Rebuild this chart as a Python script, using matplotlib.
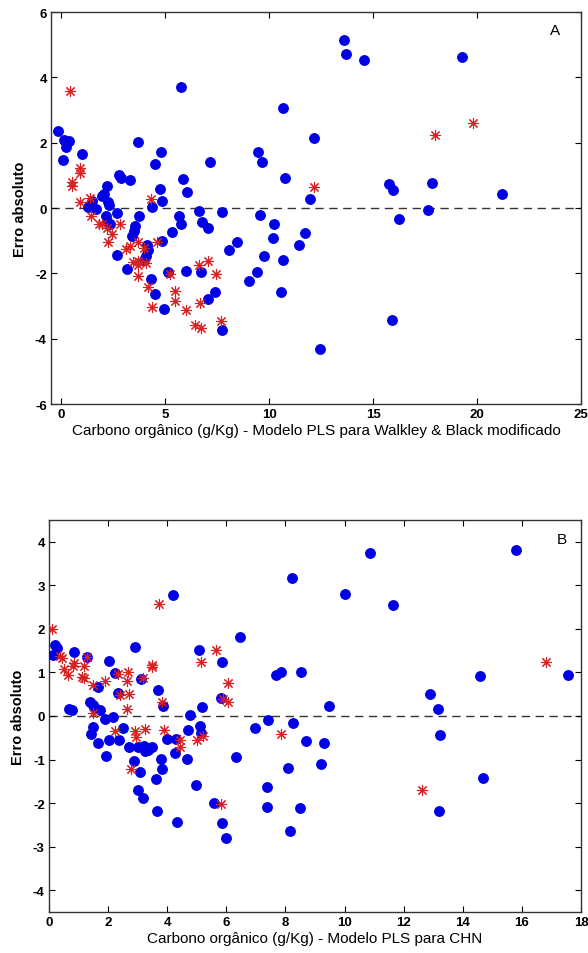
import matplotlib
matplotlib.use("Agg")
import matplotlib.pyplot as plt

# ---------------- Panel A data ----------------
a_blue_x = [-0.16, 0.13, 0.37, 0.2, 0.08, 1.01, 1.49, 1.3, 1.65, 2.05, 1.97, 2.18, 2.24, 2.29,
            2.77, 2.85, 3.3, 3.7, 4.81, 4.5, 4.74, 4.85, 4.37, 5.76, 5.87, 6.06, 7.14, 9.45, 9.66,
            10.66, 10.75, 11.95, 12.14, 13.59, 13.7, 14.55, 19.29, 15.75, 15.95, 17.81, 21.18,
            17.65, 16.24, 11.71, 11.42, 15.91, 12.43,
            2.66, 2.13, 2.21, 2.34, 3.73, 3.52, 3.49, 3.41, 4.85, 5.3, 4.13, 4.17, 4.05, 3.97,
            2.66, 3.17, 4.31, 5.12, 6.0, 6.7, 4.49, 4.93, 7.38, 7.05, 7.71, 6.62, 7.74, 5.65,
            5.74, 6.78, 7.07, 9.55, 10.22, 10.17, 8.43, 8.06, 9.74, 10.67, 9.39, 9.05, 10.58]
a_blue_y = [2.35, 2.07, 2.04, 1.88, 1.48, 1.64, 0.22, 0.02, -0.03, 0.43, 0.36, 0.68, 0.19, 0.09,
            1.01, 0.91, 0.87, 2.01, 1.72, 1.35, 0.58, 0.22, 0.04, 3.71, 0.89, 0.48, 1.42, 1.7, 1.4,
            3.06, 0.92, 0.28, 2.14, 5.13, 4.72, 4.54, 4.62, 0.74, 0.56, 0.77, 0.44,
            -0.07, -0.33, -0.77, -1.12, -3.42, -4.31,
            -0.15, -0.25, -0.39, -0.49, -0.25, -0.56, -0.69, -0.85, -1.0, -0.72, -1.13, -1.3, -1.46, -1.58,
            -1.44, -1.87, -2.17, -1.96, -1.92, -1.95, -2.63, -3.09, -2.56, -2.78, -3.73, -0.1, -0.13, -0.23,
            -0.49, -0.44, -0.62, -0.2, -0.49, -0.93, -1.05, -1.28, -1.48, -1.58, -1.97, -2.22, -2.56]

a_red_x = [0.42, 0.9, 0.88, 0.53, 0.53, 0.9, 1.38, 1.41, 4.33, 1.81, 1.97, 2.18, 2.82, 2.45,
           2.24, 3.68, 4.58, 3.3, 3.09, 3.97, 3.46, 3.68, 3.68, 4.05, 3.68, 4.15, 4.35, 5.22,
           5.45, 5.45, 5.98, 6.41, 6.7, 6.62, 7.07, 7.45, 6.66, 7.66, 12.14, 17.97, 19.8]
a_red_y = [3.59, 1.21, 1.07, 0.79, 0.66, 0.19, 0.3, -0.23, 0.28, -0.49, -0.49, -0.62, -0.49, -0.8,
           -1.03, -1.03, -1.03, -1.15, -1.27, -1.23, -1.66, -1.61, -1.76, -1.68, -2.09, -2.42, -3.04, -2.02,
           -2.53, -2.86, -3.12, -3.58, -3.68, -1.76, -1.63, -2.02, -2.9, -3.45, 0.64, 2.24, 2.61]

# ---------------- Panel B data ----------------
b_blue_x = [0.2, 0.28, 0.13, 0.84, 1.29, 2.04, 2.91, 2.24, 3.12, 4.2, 5.07, 5.84, 6.45,
            1.66, 2.32, 3.7, 1.4, 1.48, 1.55, 1.71, 0.67, 0.78, 3.86, 5.17, 5.83, 4.76,
            1.88, 2.15, 1.49, 1.43, 1.66, 2.02, 2.38, 1.94, 2.49, 2.71, 3.0, 3.2, 3.25, 3.48,
            3.35, 2.86, 3.08, 3.79, 3.81, 4.0, 4.29, 4.26, 4.68, 4.7, 5.1, 5.15, 4.97, 3.62,
            3.0, 3.17, 3.65, 5.59, 6.33, 4.33, 5.86, 5.99, 7.36, 7.36, 8.48, 8.14, 13.18, 14.69,
            10.86, 15.79, 8.23, 10.01, 11.63, 7.68, 7.85, 8.51, 14.58, 17.55, 12.88, 13.15,
            9.47, 7.4, 6.98, 8.27, 8.68, 9.3, 8.08, 9.21, 13.22]
b_blue_y = [1.63, 1.55, 1.4, 1.48, 1.35, 1.27, 1.58, 0.98, 0.86, 2.77, 1.51, 1.25, 1.82,
            0.67, 0.52, 0.6, 0.31, 0.25, 0.19, 0.13, 0.17, 0.14, 0.23, 0.21, 0.41, 0.02,
            -0.06, -0.02, -0.25, -0.42, -0.63, -0.55, -0.56, -0.91, -0.28, -0.71, -0.71, -0.68, -0.8, -0.71,
            -0.77, -1.04, -1.28, -0.98, -1.22, -0.52, -0.52, -0.86, -0.98, -0.31, -0.22, -0.38, -1.58, -1.44,
            -1.71, -1.89, -2.17, -2.0, -0.95, -2.44, -2.45, -2.81, -1.64, -2.08, -2.11, -2.65, -2.19, -1.43,
            3.75, 3.82, 3.17, 2.8, 2.55, 0.94, 1.02, 1.0, 0.92, 0.93, 0.51, 0.15,
            0.23, -0.1, -0.28, -0.17, -0.57, -0.61, -1.19, -1.11, -0.44]

b_red_x = [0.11, 0.36, 0.45, 0.5, 0.64, 0.84, 0.82, 1.18, 1.12, 1.18, 1.29, 1.49, 1.9, 2.35,
           2.67, 2.63, 2.41, 2.71, 2.63, 3.19, 3.47, 3.47, 3.84, 1.48, 2.24, 2.91, 2.93, 3.25,
           3.9, 4.42, 4.42, 5.02, 5.21, 5.66, 5.15, 6.04, 5.89, 6.06, 2.78, 5.83, 3.72, 16.81,
           7.85, 12.62]
b_red_y = [1.99, 1.38, 1.34, 1.08, 0.94, 1.22, 1.15, 1.15, 0.9, 0.87, 1.36, 0.71, 0.81, 0.96,
           1.0, 0.8, 0.48, 0.5, 0.17, 0.88, 1.17, 1.12, 0.31, 0.06, -0.35, -0.35, -0.48, -0.29,
           -0.31, -0.54, -0.71, -0.54, -0.46, 1.52, 1.25, 0.75, 0.38, 0.33, -1.22, -2.02, 2.56, 1.23,
           -0.42, -1.69]

xticks_a = [0, 5, 10, 15, 20, 25]
yticks_a = [-6, -4, -2, 0, 2, 4, 6]
xticks_b = [0, 2, 4, 6, 8, 10, 12, 14, 16, 18]
yticks_b = [-4, -3, -2, -1, 0, 1, 2, 3, 4]

xlabel_a = "Carbono orgânico (g/Kg) - Modelo PLS para Walkley & Black modificado"
xlabel_b = "Carbono orgânico (g/Kg) - Modelo PLS para CHN"
ylabel = "Erro absoluto"

plt.rcParams['font.family'] = ['Liberation Sans', 'DejaVu Sans']
plt.rcParams['axes.unicode_minus'] = False

fig = plt.figure(figsize=(5.88, 9.54), dpi=100)
ax1 = fig.add_axes([51/588, 1-405/954, 530/588, 392/954])
ax2 = fig.add_axes([49/588, 1-913/954, 532/588, 392/954])

BLUE = '#0000e6'
RED = '#d92020'
star = (8, 2, 0)

def style(ax, xticks, yticks, xlim, ylim, xlabel, letter, lx, ly):
    ax.axhline(0, color='#333333', lw=1.0, ls=(0, (6, 4)), zorder=1)
    ax.set_xlim(*xlim)
    ax.set_ylim(*ylim)
    ax.set_xticks(xticks)
    ax.set_yticks(yticks)
    ax.tick_params(direction='in', top=True, right=True, length=4, width=0.8,
                   labelsize=9.5, pad=3)
    for t in ax.get_xticklabels() + ax.get_yticklabels():
        t.set_fontweight('bold')
    for s in ax.spines.values():
        s.set_linewidth(1.0)
        s.set_color('#333333')
    ax.set_xlabel(xlabel, fontsize=11, labelpad=2)
    ax.set_ylabel(ylabel, fontsize=10.5, fontweight='bold', labelpad=6)
    ax.text(lx, ly, letter, transform=ax.transAxes, fontsize=11, ha='center', va='center')

ax1.plot(a_blue_x, a_blue_y, 'o', color=BLUE, ms=6.8, mec=BLUE, ls='none', zorder=3)
ax1.plot(a_red_x, a_red_y, marker=star, color=RED, ms=8, mew=0.8, ls='none', zorder=4)
style(ax1, xticks_a, yticks_a, (-0.5, 25), (-6, 6), xlabel_a, 'A', 0.951, 0.955)

ax2.plot(b_blue_x, b_blue_y, 'o', color=BLUE, ms=6.8, mec=BLUE, ls='none', zorder=3)
ax2.plot(b_red_x, b_red_y, marker=star, color=RED, ms=8, mew=0.8, ls='none', zorder=4)
style(ax2, xticks_b, yticks_b, (0, 18), (-4.5, 4.5), xlabel_b, 'B', 0.963, 0.952)

fig.savefig('out.png', dpi=100)
